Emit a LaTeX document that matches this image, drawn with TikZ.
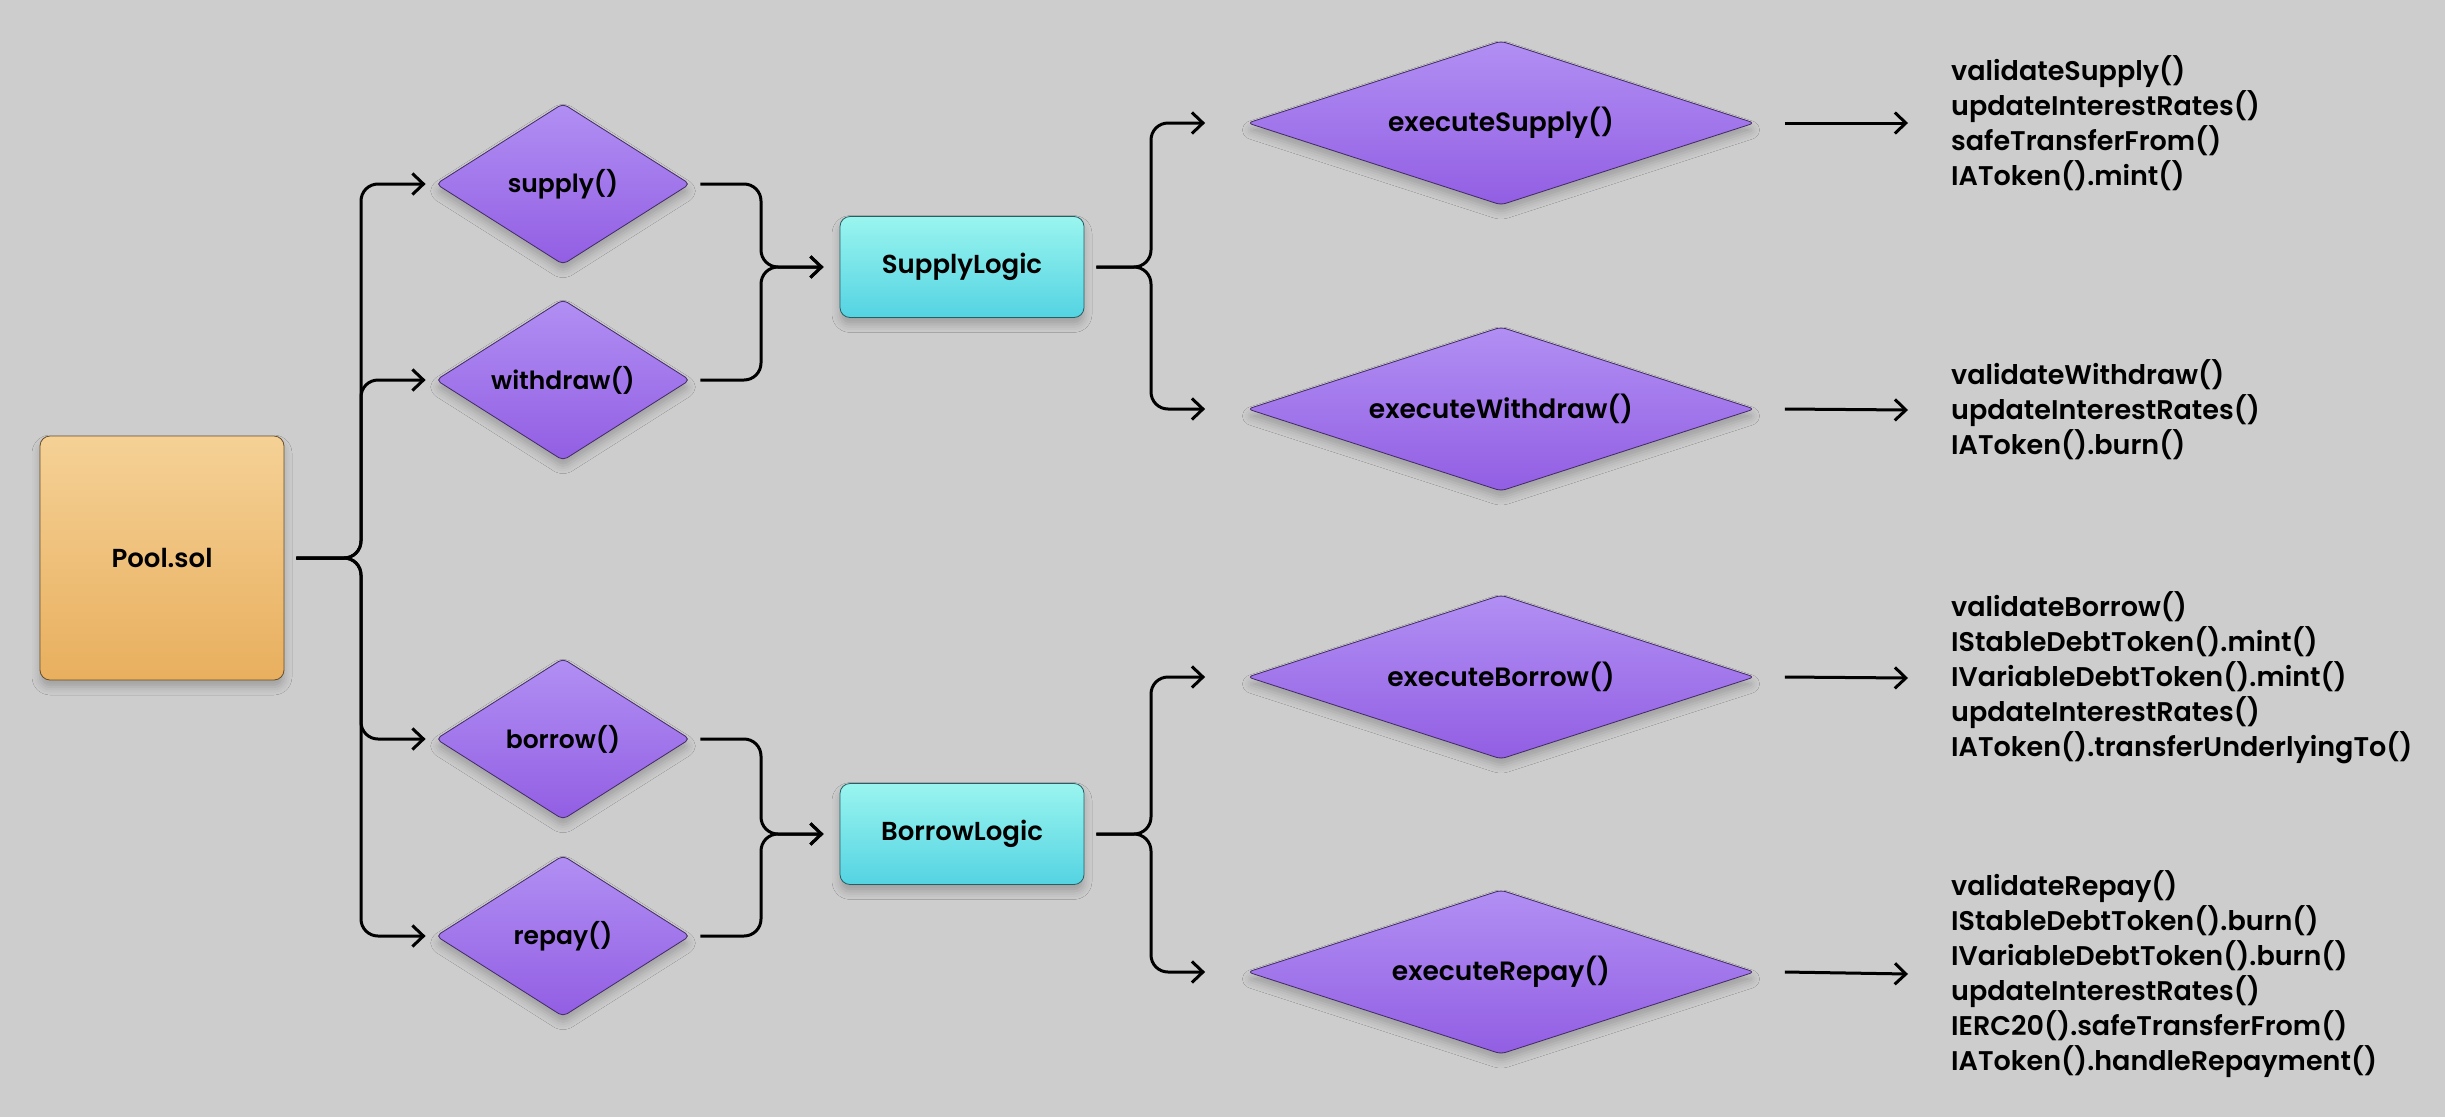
\documentclass[tikz,border=0pt]{standalone}
\usepackage{fontspec}
\setmainfont{Poppins}[UprightFont={* SemiBold}]
\usepackage{xcolor}
\usepackage{tikz}
\usetikzlibrary{shapes.geometric}
\usetikzlibrary{shadows.blur}
\usetikzlibrary{arrows.meta}

\definecolor{bg}{HTML}{CDCDCD}
\definecolor{pooltop}{HTML}{F5D196}
\definecolor{poolbot}{HTML}{E8AF5E}
\definecolor{fntop}{HTML}{B18FF3}
\definecolor{fnbot}{HTML}{925EE3}
\definecolor{libtop}{HTML}{9AF5EF}
\definecolor{libbot}{HTML}{54D3E2}

\begin{document}
\begin{tikzpicture}[x=1pt,y=-1pt]
  \tikzstyle{shd}=[blur shadow={shadow xshift=0pt,shadow yshift=-7pt,shadow blur radius=8pt,shadow opacity=22}]
  \tikzstyle{box}=[rectangle, rounded corners=10pt, line width=.8pt, inner sep=0pt, shd] % the contracts
  \tikzstyle{pool}=[box, draw=black!55!poolbot, top color=pooltop, bottom color=poolbot, minimum width=244pt, minimum height=244pt, font=\fontsize{26}{32}\selectfont]
  \tikzstyle{lib}=[box, draw=black!55!libbot, top color=libtop, bottom color=libbot, minimum width=244pt, minimum height=101pt, font=\fontsize{26}{32}\selectfont]
  \tikzstyle{fn}=[diamond, rounded corners=5pt, draw=black!55!fnbot, line width=.8pt, top color=fntop, bottom color=fnbot, inner sep=0pt, shd] % function calls are purple diamonds
  \tikzstyle{call}=[fn, aspect=1.58, minimum width=254pt, minimum height=161pt, font=\fontsize{25}{30}\selectfont]
  \tikzstyle{exec}=[fn, aspect=3.09, minimum width=507pt, minimum height=164pt, font=\fontsize{26.5}{30}\selectfont]
  \tikzstyle{calls}=[anchor=west, align=left, inner sep=0pt, font=\fontsize{27}{35}\selectfont] % what each execute does
  \tikzstyle{link}=[draw, line width=3pt, rounded corners=17pt, -{Straight Barb[length=11pt,width=21pt,line width=3pt]}]

  \fill[bg] (0,0) rectangle (2445,1117);
  \useasboundingbox (0,0) rectangle (2445,1117);

  \node[pool] (pool) at (162,558) {Pool.sol};

  \node[call] (supply)   at (563,184) {supply()};
  \node[call] (withdraw) at (563,380) {withdraw()};
  \node[call] (borrow)   at (563,739) {borrow()};
  \node[call] (repay)    at (563,936) {repay()};

  \node[lib] (supplylogic) at (962,267) {SupplyLogic};
  \node[lib] (borrowlogic) at (962,834) {BorrowLogic};

  \node[exec] (execsupply)   at (1501,123) {executeSupply()};
  \node[exec] (execwithdraw) at (1501,409) {executeWithdraw()};
  \node[exec] (execborrow)   at (1501,677) {executeBorrow()};
  \node[exec] (execrepay)    at (1501,972) {executeRepay()};

  \node[calls] (supplycalls) at (1951,123) {validateSupply()\\updateInterestRates()\\safeTransferFrom()\\IAToken().mint()};
  \node[calls] (withdrawcalls) at (1951,410) {validateWithdraw()\\updateInterestRates()\\IAToken().burn()};
  \node[calls] (borrowcalls) at (1951,678) {validateBorrow()\\IStableDebtToken().mint()\\IVariableDebtToken().mint()\\updateInterestRates()\\IAToken().transferUnderlyingTo()};
  \node[calls] (repaycalls) at (1951,974) {validateRepay()\\IStableDebtToken().burn()\\IVariableDebtToken().burn()\\updateInterestRates()\\IERC20().safeTransferFrom()\\IAToken().handleRepayment()};

  % junctions of the braces
  \coordinate (pj) at (361,558);
  \coordinate (sj) at (761,267);
  \coordinate (bj) at (761,834);
  \coordinate (sx) at (1151,267);
  \coordinate (bx) at (1151,834);

  \foreach \f in {supply,withdraw,borrow,repay}
    \draw[link] ([xshift=12pt]pool.east) -- (pj) -- (pj |- \f) -- ([xshift=-10pt]\f.west);

  \foreach \f in {supply,withdraw}
    \draw[link] ([xshift=10pt]\f.east) -- (\f -| sj) -- (sj) -- ([xshift=-16pt]supplylogic.west);
  \foreach \f in {borrow,repay}
    \draw[link] ([xshift=10pt]\f.east) -- (\f -| bj) -- (bj) -- ([xshift=-16pt]borrowlogic.west);

  \foreach \f in {execsupply,execwithdraw}
    \draw[link] ([xshift=12pt]supplylogic.east) -- (sx) -- (sx |- \f) -- ([xshift=-42pt]\f.west);
  \foreach \f in {execborrow,execrepay}
    \draw[link] ([xshift=12pt]borrowlogic.east) -- (bx) -- (bx |- \f) -- ([xshift=-42pt]\f.west);

  \draw[link] ([xshift=30pt]execsupply.east) -- ([xshift=-43pt]supplycalls.west);
  \draw[link] ([xshift=30pt]execwithdraw.east) -- ([xshift=-43pt]withdrawcalls.west);
  \draw[link] ([xshift=30pt]execborrow.east) -- ([xshift=-43pt]borrowcalls.west);
  \draw[link] ([xshift=30pt]execrepay.east) -- ([xshift=-43pt]repaycalls.west);
\end{tikzpicture}
\end{document}
